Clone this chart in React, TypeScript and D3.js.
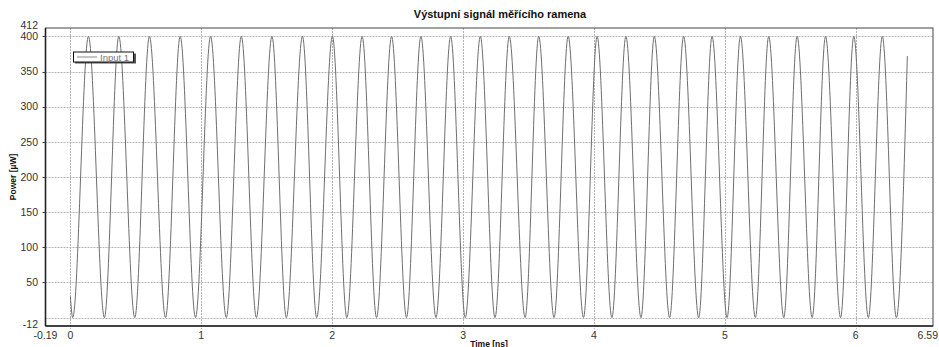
import { useEffect, useRef } from "react";
import * as d3 from "d3";

// extrema of the signal (time in ns, power in µW)
const startTime = 0;
const startPower = 30;
const peakTimes = [0.138, 0.370, 0.604, 0.839, 1.071, 1.306, 1.540, 1.773, 2.002, 2.229, 2.454, 2.678, 2.905, 3.132,
  3.353, 3.578, 3.803, 4.024, 4.244, 4.461, 4.685, 4.902, 5.119, 5.335, 5.552, 5.769, 5.985, 6.203];
const troughTimes = [0.018, 0.260, 0.492, 0.727, 0.956, 1.191, 1.421, 1.650, 1.882, 2.112, 2.339, 2.568, 2.793, 3.017,
  3.244, 3.474, 3.695, 3.920, 4.137, 4.359, 4.578, 4.800, 5.017, 5.233, 5.450, 5.667, 5.884, 6.096, 6.310];
const peakPower = 400;
const troughPower = 0;
const endTime = 6.394;
const endPower = 372;

const xTicks = [0, 1, 2, 3, 4, 5, 6];
const yTicks = [0, 50, 100, 150, 200, 250, 300, 350, 400];
const xDomain = [-0.19, 6.59];
const yDomain = [-12, 412];

export default function App() {
  const svgRef = useRef();

  useEffect(() => {
    d3.select(svgRef.current).selectAll("*").remove();
    const w = 939;
    const h = 347;
    const left = 45.5, right = 933, top = 28, bottom = 326;
    const font = "'Liberation Sans', Arial, sans-serif";

    const svg = d3.select(svgRef.current)
      .attr("width", w)
      .attr("height", h);

    const x = d3.scaleLinear().domain(xDomain).range([left, right]);
    const y = d3.scaleLinear().domain(yDomain).range([bottom, top]);

    // assemble the points
    const points = [{ t: startTime, p: startPower }]
      .concat(peakTimes.map(t => ({ t, p: peakPower })))
      .concat(troughTimes.map(t => ({ t, p: troughPower })))
      .concat([{ t: endTime, p: endPower }])
      .sort((a, b) => a.t - b.t);

    svg.append("rect")
      .attr("width", w)
      .attr("height", h)
      .attr("fill", "#fff");

    // grid
    svg.append("g")
      .selectAll("line")
      .data(yTicks)
      .enter()
      .append("line")
      .attr("x1", left)
      .attr("x2", right)
      .attr("y1", d => Math.round(y(d)) + 0.5)
      .attr("y2", d => Math.round(y(d)) + 0.5)
      .attr("stroke", "#b4b4b4")
      .attr("stroke-dasharray", "2,1");

    svg.append("g")
      .selectAll("line")
      .data(xTicks)
      .enter()
      .append("line")
      .attr("x1", d => Math.round(x(d)) + 0.5)
      .attr("x2", d => Math.round(x(d)) + 0.5)
      .attr("y1", top)
      .attr("y2", bottom + 3)
      .attr("stroke", "#b4b4b4")
      .attr("stroke-dasharray", "2,1");

    // signal
    const line = d3.line()
      .x(d => x(d.t))
      .y(d => y(d.p))
      .curve(d3.curveMonotoneX);

    svg.append("path")
      .attr("d", line(points))
      .attr("fill", "none")
      .attr("stroke", "#6e6e6e")
      .attr("stroke-width", 1);

    // frame
    svg.append("rect")
      .attr("x", left)
      .attr("y", top)
      .attr("width", right - left)
      .attr("height", bottom - top)
      .attr("fill", "none")
      .attr("stroke", "#444")
      .attr("stroke-width", 1);

    svg.append("line")
      .attr("x1", left).attr("x2", left)
      .attr("y1", top).attr("y2", bottom)
      .attr("stroke", "#222")
      .attr("stroke-width", 1.6);
    svg.append("line")
      .attr("x1", left).attr("x2", right)
      .attr("y1", bottom).attr("y2", bottom)
      .attr("stroke", "#222")
      .attr("stroke-width", 1.6);

    // y ticks + labels
    const yLabels = [yDomain[0]].concat(yTicks.filter(d => d !== 0)).concat([yDomain[1]]);
    svg.append("g")
      .selectAll("line")
      .data(yTicks.filter(d => d !== 0))
      .enter()
      .append("line")
      .attr("x1", left - 3)
      .attr("x2", left)
      .attr("y1", d => Math.round(y(d)) + 0.5)
      .attr("y2", d => Math.round(y(d)) + 0.5)
      .attr("stroke", "#444");

    svg.append("g")
      .selectAll("text")
      .data(yLabels)
      .enter()
      .append("text")
      .attr("x", 38)
      .attr("y", d => d === yDomain[1] ? y(d) - 3 : d === yDomain[0] ? y(d) - 2 : y(d))
      .attr("dy", "0.35em")
      .attr("text-anchor", "end")
      .style("font-family", font)
      .style("font-size", "10.5px")
      .attr("fill", "#333")
      .text(d => d);

    // x labels (the last one is pulled in so it stays on the page)
    const xLabels = [xDomain[0]].concat(xTicks).concat([xDomain[1]]);
    svg.append("g")
      .selectAll("text")
      .data(xLabels)
      .enter()
      .append("text")
      .attr("x", d => d === xDomain[1] ? w - 1 : x(d))
      .attr("y", 339)
      .attr("text-anchor", d => d === xDomain[1] ? "end" : "middle")
      .style("font-family", font)
      .style("font-size", "10.5px")
      .attr("fill", "#333")
      .text(d => d);

    // titles
    svg.append("text")
      .attr("x", 500)
      .attr("y", 18)
      .attr("text-anchor", "middle")
      .style("font-family", font)
      .style("font-size", "11px")
      .style("font-weight", "bold")
      .attr("fill", "#111")
      .text("Výstupní signál měřícího ramena");

    svg.append("text")
      .attr("x", 489)
      .attr("y", 346.5)
      .attr("text-anchor", "middle")
      .style("font-family", font)
      .style("font-size", "8.5px")
      .style("font-weight", "bold")
      .attr("fill", "#111")
      .text("Time [ns]");

    svg.append("text")
      .attr("transform", `translate(16, ${(top + bottom) / 2}) rotate(-90)`)
      .attr("text-anchor", "middle")
      .style("font-family", font)
      .style("font-size", "8.5px")
      .style("font-weight", "bold")
      .attr("fill", "#111")
      .text("Power [µW]");

    // legend
    const legend = svg.append("g")
      .attr("transform", "translate(73, 51.5)");
    legend.append("rect")
      .attr("x", 2).attr("y", 2)
      .attr("width", 61).attr("height", 10)
      .attr("fill", "#555");
    legend.append("rect")
      .attr("x", 0.5).attr("y", 0.5)
      .attr("width", 60).attr("height", 10)
      .attr("fill", "#fff")
      .attr("stroke", "#111");
    legend.append("line")
      .attr("x1", 4).attr("x2", 24)
      .attr("y1", 5.5).attr("y2", 5.5)
      .attr("stroke", "#8a8a8a");
    legend.append("text")
      .attr("x", 27)
      .attr("y", 9)
      .style("font-family", font)
      .style("font-size", "9.5px")
      .attr("fill", "#777")
      .text("Input 1");
  }, []);

  return (
    <svg ref={svgRef} style={{ position: "absolute", left: 0, top: 0, display: "block" }}></svg>
  );
}
